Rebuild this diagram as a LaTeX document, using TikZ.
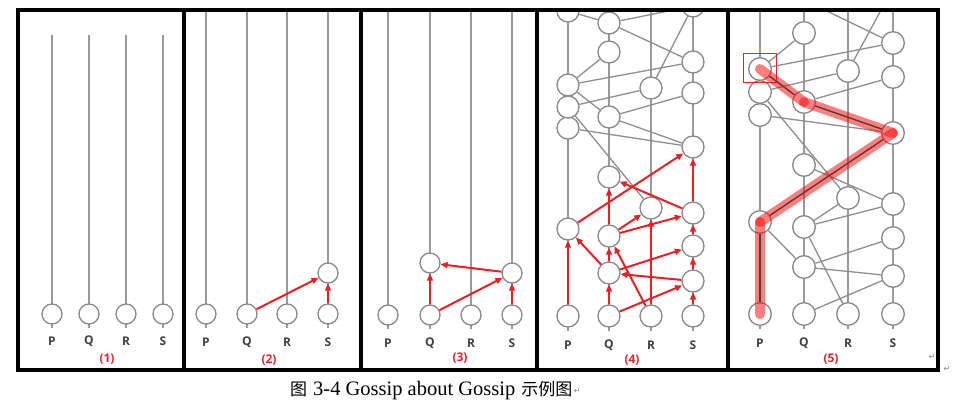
\documentclass[tikz,border=0pt]{standalone}
\usepackage{fontspec}
\setmainfont{Liberation Serif}
\setsansfont{Open Sans}
\newfontfamily\cjk{Noto Sans CJK SC}
\newfontfamily\symf{DejaVu Sans}
\usetikzlibrary{arrows.meta}
\definecolor{lgray}{HTML}{9A9A9A}
\definecolor{egray}{HTML}{8E8E8E}
\definecolor{ngray}{HTML}{888888}
\definecolor{rred}{HTML}{F01E23}
\definecolor{lblgray}{HTML}{404040}
\definecolor{numred}{HTML}{F0202A}
\definecolor{dkline}{HTML}{5A3C3C}
\tikzset{
  ev/.style={circle, draw=ngray, fill=white, line width=1.3pt, minimum size=20pt, inner sep=0pt},
  evb/.style={ev, minimum size=22pt},
  evc/.style={ev, minimum size=22.6pt},
  col/.style={draw=lgray, line width=1.6pt},
  edge/.style={draw=egray, line width=1.3pt},
  rarr/.style={draw=rred, line width=2pt, -{Triangle[length=7pt,width=6pt]}},
  lbl/.style={font=\sffamily\bfseries\fontsize{12pt}{14pt}\selectfont, text=lblgray, inner sep=0pt},
  num/.style={font=\sffamily\bfseries\fontsize{12pt}{14pt}\selectfont, text=numred, inner sep=0pt},
  frm/.style={line width=4.5pt, draw=black},
  hl/.style={draw=red, line width=10pt, line cap=round, opacity=0.5},
  dk/.style={draw=dkline, line width=1.3pt},
  pmark/.style={font=\symf\fontsize{8pt}{9pt}\selectfont, text=gray, inner sep=0pt}
}
\begin{document}
\begin{tikzpicture}[x=1pt,y=-1pt]
\useasboundingbox (0,0) rectangle (962,408);

% ---------- panel 1 ----------
\begin{scope}
\clip (18,10) rectangle (184,370);
\foreach \n/\x in {P/52,Q/89,R/126,S/163}{
  \coordinate (t1\n) at (\x,35);
  \coordinate (b1\n) at (\x,328);
  \draw[col] (t1\n) -- (b1\n);
  \node[ev] (a1\n) at (\x,314) {};
  \node[lbl] (l1\n) at (\x,341) {\n};
}
\node[num] (n1) at (107,359) {(1)};
\end{scope}

% ---------- panel 2 ----------
\begin{scope}
\clip (184,10) rectangle (361,370);
\foreach \n/\x in {P/206,Q/247,R/287,S/328}{
  \coordinate (t2\n) at (\x,8);
  \coordinate (b2\n) at (\x,328);
  \draw[col] (t2\n) -- (b2\n);
  \node[ev] (a2\n) at (\x,314) {};
  \node[lbl] (l2\n) at (\x,342) {\n};
}
\node[ev] (a2S1) at (328,273) {};
\draw[rarr] (a2Q) -- (a2S1);
\draw[rarr] (a2S) -- (a2S1);
\node[num] (n2) at (269,360) {(2)};
\end{scope}

% ---------- panel 3 ----------
\begin{scope}
\clip (361,10) rectangle (537,370);
\foreach \n/\x in {P/388,Q/430,R/471,S/512}{
  \coordinate (t3\n) at (\x,8);
  \coordinate (b3\n) at (\x,329);
  \draw[col] (t3\n) -- (b3\n);
  \node[ev] (a3\n) at (\x,315) {};
  \node[lbl] (l3\n) at (\x,343) {\n};
}
\node[ev] (a3Q1) at (430,263) {};
\node[ev] (a3S1) at (512,273) {};
\draw[rarr] (a3Q) -- (a3Q1);
\draw[rarr] (a3Q) -- (a3S1);
\draw[rarr] (a3S) -- (a3S1);
\draw[rarr] (a3S1) -- (a3Q1);
\node[num] (n3) at (460,358) {(3)};
\end{scope}

% ---------- panel 4 ----------
\begin{scope}
\clip (537,10) rectangle (728,370);
\foreach \n/\x in {P/568,Q/609,R/651,S/693}{
  \coordinate (t4\n) at (\x,8);
  \coordinate (b4\n) at (\x,331);
  \draw[col] (t4\n) -- (b4\n);
  \node[lbl] (l4\n) at (\x,345) {\n};
}
\foreach \nm/\x/\y in {P0/568/316,Q0/609/316,R0/651/316,S0/693/316,
  S1/693/281,Q1/609/273,S2/693/246,Q2/609/236,P1/568/229,S3/693/213,
  R1/651/208,Q3/609/177,S4/693/147,P2/568/128,Q4/609/117,P3/568/107,
  S5/693/93,R2/651/88,P4/568/85,S6/693/62,Q5/609/52,Q6/609/23,
  P5/568/11,S7/693/6}{
  \node[evb] (d\nm) at (\x,\y) {};
}
\foreach \a/\b in {P5/Q6,Q6/S7,S7/R2,Q6/S6,Q5/P4,P4/S6,P4/Q4,P3/R2,
  Q4/S5,Q4/S4,P2/S4,P3/R1}{
  \draw[edge] (d\a) -- (d\b);
}
\foreach \a/\b in {P0/P1,Q0/Q1,Q0/S1,S0/S1,R0/R1,R0/Q2,S1/Q1,Q1/P1,
  Q1/Q2,Q1/S2,S1/S2,Q2/R1,Q2/S3,S2/S3,Q2/Q3,S3/Q3,S3/S4,P1/S4}{
  \draw[rarr] (d\a) -- (d\b);
}
\node[num] (n4) at (632,360) {(4)};
\end{scope}

% ---------- panel 5 ----------
\begin{scope}
\clip (728,10) rectangle (938,370);
\foreach \n/\x in {P/760,Q/804,R/848,S/893}{
  \coordinate (t5\n) at (\x,8);
  \coordinate (b5\n) at (\x,329);
  \draw[col] (t5\n) -- (b5\n);
  \node[lbl] (l5\n) at (\x,343) {\n};
}
\foreach \nm/\x/\y in {P0/760/314,Q0/804/314,R0/848/314,S0/893/314,
  S1/893/276,Q1/804/267,S2/893/238,Q2/804/227,P1/760/222,S3/893/204,
  R1/848/198,Q3/804/165,S4/893/133,P2/760/115,Q4/804/102,P3/760/92,
  S5/893/77,R2/848/71,P4/760/69,S6/893/43,Q5/804/33,Q6/804/0,S7/893/-12}{
  \node[evc] (e\nm) at (\x,\y) {};
}
\foreach \a/\b in {Q6/S6,S7/R2,Q5/P4,P4/S6,P4/Q4,P3/R2,
  Q4/S5,Q4/S4,P2/S4,P3/R1,
  Q0/S1,R0/Q2,S1/Q1,Q1/P1,Q1/S2,Q2/R1,Q2/S3,S3/Q3,P1/S4}{
  \draw[edge] (e\a) -- (e\b);
}
\node[draw=rred, line width=1pt, minimum width=33pt, minimum height=29pt, inner sep=0pt] (box) at (759.5,67.5) {};
\draw[hl] (eP0.center) -- (eP1.center);
\draw[hl] (eP1.center) -- (eS4.center);
\draw[hl] (eS4.center) -- (eQ4.center);
\draw[hl] (eQ4.center) -- (eP4.center);
\draw[dk] (eP0) -- (eP1);
\draw[dk] (eP1) -- (eS4);
\draw[dk] (eS4) -- (eQ4);
\draw[dk] (eQ4) -- (eP4);
\node[num] (n5) at (831,359) {(5)};
\node[pmark] (pm1) at (932,357) {↵};
\end{scope}

% ---------- frames ----------
\draw[frm] (18,10) rectangle (938,370);
\foreach \x in {184,361,537,728}{
  \draw[frm] (\x,10) -- (\x,370);
}
\node[pmark] (pm2) at (947,369) {↵};

% ---------- caption ----------
\node[anchor=west, inner sep=0pt, font=\fontsize{20.5pt}{22pt}\selectfont] (cap) at (290,391)
  {{\cjk\fontsize{17pt}{20pt}\selectfont 图}\hspace{6pt}3-4 Gossip about Gossip\hspace{6pt}{\cjk\fontsize{17pt}{20pt}\selectfont 示例图}};
\node[pmark, anchor=west] (pm3) at ([xshift=1pt]cap.east) {↵};
\end{tikzpicture}
\end{document}
